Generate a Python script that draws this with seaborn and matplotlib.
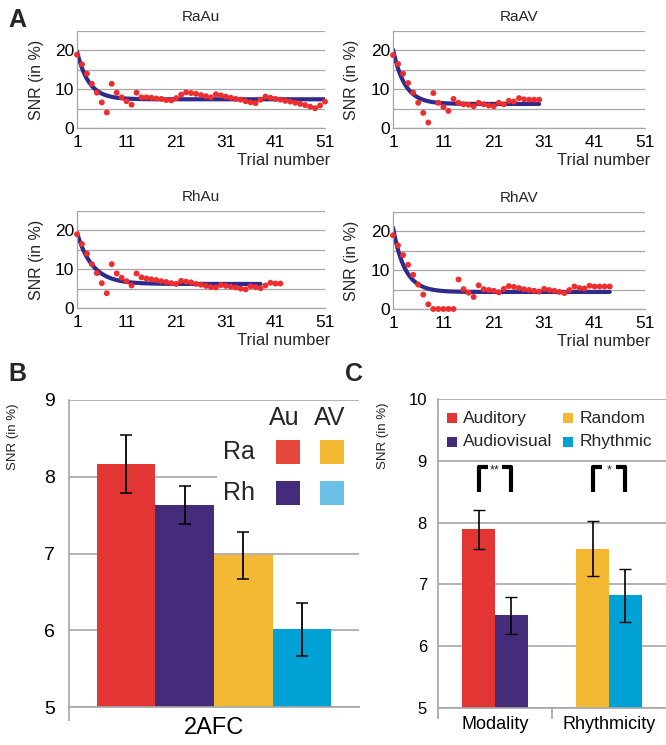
import numpy as np
import pandas as pd
import matplotlib
matplotlib.use("Agg")
import matplotlib.pyplot as plt
import seaborn as sns
from matplotlib.patches import Rectangle

# ---------------- data ----------------
raau = [18.9, 16.4, 14.0, 11.4, 9.1, 6.6, 4.0, 11.4, 9.1, 7.9, 6.9, 6.0,
        9.1, 7.9, 7.9, 7.8, 7.6, 7.5, 7.2, 7.1,
        7.7, 8.6, 9.2, 9.0, 8.8, 8.5, 8.2, 7.9,
        8.7, 8.4, 8.1, 7.8, 7.5, 7.3, 6.9, 6.6, 6.4,
        7.3, 8.1, 7.8, 7.5, 7.3, 7.0,
        6.8, 6.5, 6.2, 5.9, 5.5, 5.1, 5.8, 6.8]
raav = [18.8, 16.5, 14.0, 11.6, 9.1, 6.5, 3.9, 1.4, 9.0, 6.5, 5.4, 4.4,
        7.5, 6.5, 6.1, 6.0, 5.6, 6.5, 6.1, 5.8, 5.6, 6.5, 6.1, 7.0, 6.8,
        7.7, 7.4, 7.3, 7.3, 7.3]
rhau = [19.0, 16.5, 14.0, 11.3, 9.0, 6.4, 3.8, 11.3, 8.9, 7.8, 6.9, 5.8,
        8.9, 7.9, 7.6, 7.4, 7.2, 6.9, 6.7, 6.4, 6.2, 7.0, 6.8, 6.6, 6.2, 6.0, 5.7, 5.4,
        5.3, 5.9, 5.7, 5.5, 5.3, 5.0, 4.8, 5.6, 5.4, 5.1, 5.8, 6.5, 6.3, 6.3]
rhav = [19.0, 16.4, 13.9, 11.4, 8.8, 6.3, 3.7, 1.2, 0.0, 0.0, 0.0, 0.0, 0.0,
        7.6, 5.1, 4.2, 3.1, 6.1, 5.1, 4.9, 4.7, 4.3,
        5.2, 5.9, 5.7, 5.4, 5.1, 4.9, 4.7, 4.5, 5.2, 4.9, 4.7, 4.4, 4.1,
        4.9, 5.8, 5.4, 5.3, 6.0, 5.8, 5.8, 5.8, 5.8]
a_names = ["RaAu", "RaAV", "RhAu", "RhAV"]
fit_end = {"RaAu": 51, "RaAV": 30, "RhAu": 38, "RhAV": 44}
a_xticks = [1, 11, 21, 31, 41, 51]

b_task = "2AFC"
b_conditions = ["RaAu", "RhAu", "RaAV", "RhAV"]
b_means = [8.17, 7.63, 6.98, 6.01]
b_low = [7.79, 7.38, 6.67, 5.67]
b_high = [8.54, 7.88, 7.28, 6.35]

c_groups = ["Modality", "Modality", "Rhythmicity", "Rhythmicity"]
c_conditions = ["Auditory", "Audiovisual", "Random", "Rhythmic"]
c_slots = ["first", "second", "first", "second"]
c_means = [7.90, 6.50, 7.58, 6.83]
c_low = [7.58, 6.19, 7.13, 6.39]
c_high = [8.20, 6.80, 8.02, 7.25]
c_sig = {"Modality": "**", "Rhythmicity": "*"}

# ---------------- style ----------------
RED, PURPLE, YELLOW, BLUE = "#E33634", "#452C7B", "#F4B932", "#00A2D6"
LEG_RED, LEG_BLUE = "#E5463A", "#6CC0E5"
DOT, NAVY = "#EE2E2E", "#2F2A8C"
GRID = "#A6A6A6"

sns.set_theme(style="white")
plt.rcParams["font.family"] = ["Liberation Sans", "DejaVu Sans"]

fig = plt.figure(figsize=(6.66, 7.45), dpi=100)
W, H = 666, 745


def px_axes(left, top, right, bottom):
    return fig.add_axes([left / W, 1 - bottom / H, (right - left) / W, (bottom - top) / H])


a_boxes = {"RaAu": (77, 31, 325, 128), "RaAV": (393, 31, 645, 128),
           "RhAu": (77, 211, 325, 308), "RhAV": (393, 212, 645, 309)}
a_data = {"RaAu": raau, "RaAV": raav, "RhAu": rhau, "RhAV": rhav}

for name in a_names:
    ax = px_axes(*a_boxes[name])
    vals = np.asarray(a_data[name], float)
    t = np.arange(1, len(vals) + 1)
    df = pd.DataFrame({"trial": t, "snr": vals})
    # exponential fit (from the data)
    best = None
    for tau in np.linspace(0.5, 10, 381):
        X = np.column_stack([np.ones(len(t)), np.exp(-(t - 1) / tau)])
        coef = np.linalg.lstsq(X, vals, rcond=None)[0]
        sse = float(np.sum((X @ coef - vals) ** 2))
        if best is None or sse < best[0]:
            best = (sse, tau, coef)
    _, tau, coef = best
    tf = np.linspace(1, fit_end[name], 300)
    fit = pd.DataFrame({"trial": tf, "snr": coef[0] + coef[1] * np.exp(-(tf - 1) / tau)})
    sns.lineplot(data=fit, x="trial", y="snr", ax=ax, color=NAVY, lw=3.0, zorder=2)
    sns.scatterplot(data=df, x="trial", y="snr", ax=ax, color=DOT, s=18,
                    edgecolor="none", zorder=3, clip_on=False)
    ax.set_xlim(1, 51)
    ax.set_ylim(0, 25)
    ax.set_yticks([0, 5, 10, 15, 20, 25])
    ax.set_yticklabels(["0", "", "10", "", "20", ""])
    ax.set_xticks(a_xticks)
    ax.set_xticklabels([str(v) for v in a_xticks])
    ax.grid(axis="y", color=GRID, lw=0.9)
    ax.grid(axis="x", visible=False)
    for s in ["top", "right"]:
        ax.spines[s].set_visible(False)
    for s in ["left", "bottom"]:
        ax.spines[s].set_color(GRID)
        ax.spines[s].set_linewidth(0.9)
    ax.tick_params(axis="y", length=0, labelsize=12.5, pad=2, colors="black")
    ax.tick_params(axis="x", length=3, width=0.8, color=GRID, labelsize=12.5, pad=2, labelcolor="black")
    ax.set_ylabel("SNR (in %)", fontsize=11.5, labelpad=0)
    ax.yaxis.set_label_coords(-0.135, 0.5)
    ax.set_xlabel("Trial number", fontsize=12, ha="right")
    ax.xaxis.set_label_coords(1.02, -0.34)
    ax.xaxis.label.set_va("center")
    ax.text(0.5, 1.14, name, transform=ax.transAxes, ha="center", va="center", fontsize=11)

# ---------------- panel B ----------------
axb = px_axes(69, 400, 359, 707)
dfb = pd.DataFrame({"task": [b_task] * 4, "cond": b_conditions, "snr": b_means})
b_pal = dict(zip(b_conditions, [RED, PURPLE, YELLOW, BLUE]))
sns.barplot(data=dfb, x="task", y="snr", hue="cond", hue_order=b_conditions,
            palette=b_pal, width=0.81, errorbar=None, legend=False, saturation=1,
            linewidth=0, ax=axb, zorder=2)
patches = sorted(axb.patches, key=lambda p: p.get_x())
for p, m, lo, hi in zip(patches, b_means, b_low, b_high):
    p.set_edgecolor("none")
    cx = p.get_x() + p.get_width() / 2
    axb.errorbar(cx, m, yerr=[[m - lo], [hi - m]], fmt="none", ecolor="black",
                 elinewidth=1.3, capsize=4, capthick=1.1, zorder=3)
axb.set_ylim(5, 9)
axb.set_xlim(-0.5, 0.5)
axb.set_yticks([5, 6, 7, 8, 9])
axb.grid(axis="y", color=GRID, lw=1.2, zorder=0)
axb.set_axisbelow(True)
for s in ["top", "right"]:
    axb.spines[s].set_visible(False)
for s in ["left", "bottom"]:
    axb.spines[s].set_color(GRID)
    axb.spines[s].set_linewidth(1.2)
axb.tick_params(axis="y", length=7, width=1.2, color=GRID, labelsize=14, pad=3, labelcolor="black")
axb.tick_params(axis="x", length=0, labelsize=17, pad=7, labelcolor="black")
axb.set_xticks([-0.5], minor=True)
axb.tick_params(axis="x", which="minor", length=10, width=1.2, color=GRID, bottom=True)
axb.set_xlabel("")
axb.set_ylabel("SNR (in %)", fontsize=9.5)
axb.yaxis.set_label_coords(-0.172, 0.88)
# legend box of panel B
axb.add_patch(Rectangle((0.51, 0.62), 0.5, 0.345, transform=axb.transAxes,
                        facecolor="white", edgecolor="none", zorder=4, clip_on=False))
axb.text(0.743, 0.941, "Au", transform=axb.transAxes, ha="center", va="center", fontsize=18, zorder=5)
axb.text(0.90, 0.941, "AV", transform=axb.transAxes, ha="center", va="center", fontsize=18, zorder=5)
axb.text(0.586, 0.830, "Ra", transform=axb.transAxes, ha="center", va="center", fontsize=18, zorder=5)
axb.text(0.586, 0.697, "Rh", transform=axb.transAxes, ha="center", va="center", fontsize=18, zorder=5)
leg_b = {(0, 0): LEG_RED, (0, 1): YELLOW, (1, 0): PURPLE, (1, 1): LEG_BLUE}
for (r, c), col in leg_b.items():
    axb.add_patch(Rectangle((0.714 + c * 0.152, 0.792 - r * 0.134), 0.083, 0.078,
                            transform=axb.transAxes, facecolor=col, edgecolor="none",
                            zorder=5, clip_on=False))

# ---------------- panel C ----------------
axc = px_axes(438, 399, 666, 708)
dfc = pd.DataFrame({"group": c_groups, "cond": c_conditions, "slot": c_slots, "snr": c_means})
c_order = ["Modality", "Rhythmicity"]
c_pal = dict(zip(c_conditions, [RED, PURPLE, YELLOW, BLUE]))
sns.barplot(data=dfc, x="group", y="snr", hue="slot", hue_order=["first", "second"],
            order=c_order, palette=["#888888", "#888888"], width=0.575, errorbar=None,
            legend=False, saturation=1, linewidth=0, ax=axc, zorder=2)
centers = {}
for p in axc.patches:
    cx = p.get_x() + p.get_width() / 2
    gi = int(round(cx))
    slot = "first" if cx < gi else "second"
    row = dfc[(dfc.group == c_order[gi]) & (dfc.slot == slot)].index[0]
    p.set_facecolor(c_pal[dfc.cond[row]])
    p.set_edgecolor("none")
    centers[row] = cx
for i in range(len(c_means)):
    m = c_means[i]
    axc.errorbar(centers[i], m, yerr=[[m - c_low[i]], [c_high[i] - m]], fmt="none",
                 ecolor="black", elinewidth=1.2, capsize=4, capthick=1.0, zorder=3)
# significance brackets
for g, stars in c_sig.items():
    idx = dfc.index[dfc.group == g]
    x0, x1 = centers[idx[0]], centers[idx[1]]
    arm = 0.3 * (x1 - x0)
    y0, y1 = 8.5, 8.9
    axc.plot([x0, x0, x0 + arm], [y0, y1, y1], color="black", lw=3.0, solid_capstyle="butt", zorder=3)
    axc.plot([x1 - arm, x1, x1], [y1, y1, y0], color="black", lw=3.0, solid_capstyle="butt", zorder=3)
    axc.text((x0 + x1) / 2, y1 + 0.04, stars, ha="center", va="top", fontsize=9)
axc.set_ylim(5, 10)
axc.set_xlim(-0.5, 1.5)
axc.set_yticks([5, 6, 7, 8, 9, 10])
axc.grid(axis="y", color=GRID, lw=1.2, zorder=0)
axc.set_axisbelow(True)
for s in ["top", "right"]:
    axc.spines[s].set_visible(False)
for s in ["left", "bottom"]:
    axc.spines[s].set_color(GRID)
    axc.spines[s].set_linewidth(1.2)
axc.tick_params(axis="y", length=5, width=1.2, color=GRID, labelsize=12, pad=3, labelcolor="black")
axc.tick_params(axis="x", length=0, labelsize=13, pad=6, labelcolor="black")
axc.set_xticks([-0.5, 0.5], minor=True)
axc.tick_params(axis="x", which="minor", length=8, width=1.2, color=GRID, bottom=True)
axc.set_xlabel("")
axc.set_ylabel("SNR (in %)", fontsize=9.5)
axc.yaxis.set_label_coords(-0.215, 0.88)
# legend of panel C
leg_c = [("Auditory", RED, 0, 0), ("Audiovisual", PURPLE, 1, 0),
         ("Random", YELLOW, 0, 1), ("Rhythmic", BLUE, 1, 1)]
for lab, col, r, c in leg_c:
    yc = 0.9385 - r * 0.0775
    xs = 0.039 + c * 0.509
    axc.add_patch(Rectangle((xs, yc - 0.016), 0.044, 0.032, transform=axc.transAxes,
                            facecolor=col, edgecolor="none", zorder=5, clip_on=False))
    axc.text(xs + 0.071, yc, lab, transform=axc.transAxes, ha="left", va="center",
             fontsize=12.5, zorder=5)

# panel letters
fig.text(8 / W, 1 - 20 / H, "A", fontsize=18, fontweight="bold", ha="left", va="center")
fig.text(8 / W, 1 - 374 / H, "B", fontsize=18, fontweight="bold", ha="left", va="center")
fig.text(345 / W, 1 - 374 / H, "C", fontsize=18, fontweight="bold", ha="left", va="center")

fig.savefig("out.png", dpi=100)
